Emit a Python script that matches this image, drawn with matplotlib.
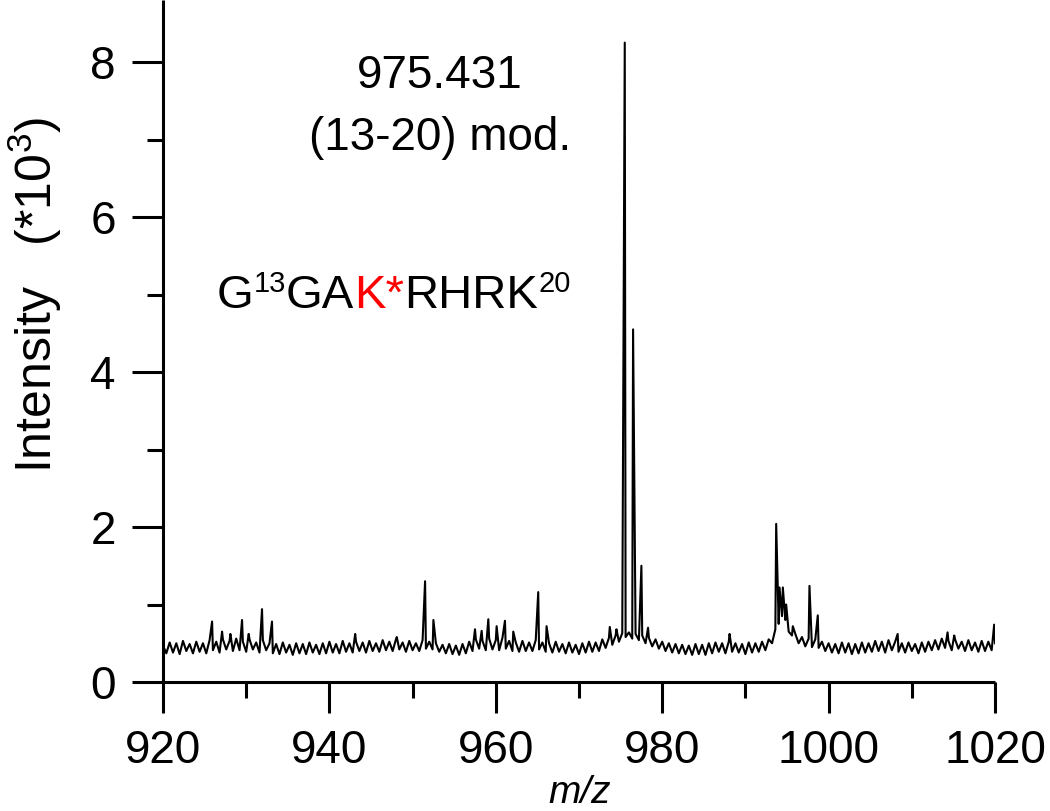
"""
Kütle spektrumu: 975.431 (13-20) mod.
"""
import matplotlib
matplotlib.use("Agg")
import matplotlib.pyplot as plt
import numpy as np

plt.rcParams['font.family'] = ['Liberation Sans', 'DejaVu Sans']
plt.rcParams['mathtext.fontset'] = 'custom'
plt.rcParams['mathtext.rm'] = 'Liberation Sans'

# taban gürültüsü, 920'den 1020'ye 0.4 m/z aralıklarla (*10^3)
taban_mz = np.linspace(920, 1020, 251)
taban = [
    0.47, 0.37, 0.51, 0.38, 0.50, 0.36, 0.53, 0.40, 0.49, 0.37,
    0.52, 0.39, 0.50, 0.37, 0.54, 0.41, 0.52, 0.38, 0.55, 0.42,
    0.53, 0.40, 0.56, 0.41, 0.52, 0.39, 0.55, 0.42, 0.51, 0.38,
    0.54, 0.41, 0.50, 0.37, 0.49, 0.36, 0.51, 0.38, 0.48, 0.35,
    0.50, 0.37, 0.49, 0.36, 0.51, 0.38, 0.48, 0.36, 0.50, 0.37,
    0.52, 0.38, 0.49, 0.37, 0.53, 0.39, 0.50, 0.38, 0.52, 0.40,
    0.51, 0.38, 0.53, 0.40, 0.50, 0.39, 0.54, 0.41, 0.52, 0.40,
    0.55, 0.42, 0.51, 0.39, 0.53, 0.41, 0.50, 0.40, 0.54, 0.43,
    0.52, 0.42, 0.50, 0.39, 0.48, 0.37, 0.49, 0.36, 0.47, 0.35,
    0.49, 0.37, 0.52, 0.40, 0.55, 0.43, 0.53, 0.41, 0.56, 0.42,
    0.54, 0.41, 0.57, 0.43, 0.53, 0.40, 0.51, 0.39, 0.53, 0.40,
    0.51, 0.40, 0.54, 0.42, 0.51, 0.39, 0.50, 0.38, 0.52, 0.39,
    0.49, 0.37, 0.51, 0.38, 0.48, 0.36, 0.50, 0.38, 0.52, 0.39,
    0.51, 0.40, 0.55, 0.44, 0.57, 0.48, 0.60, 0.52, 0.63, 0.58,
    0.64, 0.56, 0.62, 0.54, 0.60, 0.50, 0.57, 0.46, 0.55, 0.43,
    0.52, 0.40, 0.50, 0.38, 0.49, 0.37, 0.48, 0.36, 0.47, 0.35,
    0.49, 0.36, 0.48, 0.35, 0.50, 0.37, 0.51, 0.39, 0.50, 0.37,
    0.52, 0.39, 0.50, 0.38, 0.49, 0.36, 0.51, 0.38, 0.50, 0.39,
    0.52, 0.41, 0.55, 0.50, 0.68, 0.75, 0.85, 0.80, 0.65, 0.60,
    0.62, 0.50, 0.58, 0.46, 0.56, 0.45, 0.55, 0.44, 0.52, 0.40,
    0.50, 0.38, 0.49, 0.37, 0.51, 0.38, 0.50, 0.36, 0.49, 0.37,
    0.51, 0.38, 0.50, 0.39, 0.53, 0.40, 0.52, 0.38, 0.54, 0.41,
    0.52, 0.39, 0.50, 0.38, 0.51, 0.40, 0.49, 0.37, 0.51, 0.39,
    0.52, 0.41, 0.54, 0.42, 0.56, 0.44, 0.53, 0.41, 0.55, 0.43,
    0.52, 0.40, 0.54, 0.41, 0.51, 0.39, 0.53, 0.40, 0.52, 0.41,
    0.50,
]

# pik konumları (m/z) ve yükseklikleri (*10^3)
pik_mz = [925.9, 927.1, 928.1, 929.5, 930.3, 931.9, 933.1, 943.1, 948.1,
          951.5, 952.5, 957.5, 958.3, 959.1, 960.1, 961.1, 962.1, 965.1,
          966.1, 973.7, 974.5, 975.5, 976.5, 977.5, 978.3, 988.1, 993.7,
          994.1, 994.5, 994.9, 995.7, 997.7, 998.7, 1008.3, 1014.3,
          1015.1, 1019.9]
pik_yük = [0.78, 0.65, 0.62, 0.80, 0.62, 0.94, 0.78, 0.62, 0.58,
           1.30, 0.80, 0.68, 0.66, 0.81, 0.72, 0.79, 0.65, 1.16,
           0.72, 0.71, 0.68, 8.25, 4.55, 1.50, 0.70, 0.62, 2.04,
           1.22, 1.22, 1.00, 0.72, 1.24, 0.86, 0.62, 0.64,
           0.60, 0.74]

xTikler = [920, 940, 960, 980, 1000, 1020]
yTikler = [0, 2, 4, 6, 8]

# taban ve pikleri tek bir dizide birleştir
mz = np.concatenate([taban_mz, pik_mz])
yoğ = np.concatenate([taban, pik_yük])
sıra = np.argsort(mz)
mz, yoğ = mz[sıra], yoğ[sıra]

fig = plt.figure(figsize=(10.5, 8.11), dpi=100)
ax = fig.add_axes([163/1050, 1 - 682/811, (995-163)/1050, 682/811])

ax.plot(mz, yoğ, color='black', lw=1.5)

ax.set_xlim(920, 1020)
ax.set_ylim(0, 8.8)
ax.set_xticks(xTikler)
ax.set_xticks([930, 950, 970, 990, 1010], minor=True)
ax.set_yticks(yTikler)
ax.set_yticks([1, 3, 5, 7], minor=True)

for k in ['top', 'right']:
    ax.spines[k].set_visible(False)
for k in ['left', 'bottom']:
    ax.spines[k].set_linewidth(2.2)
    ax.spines[k].set_capstyle('butt')

ax.tick_params(which='major', direction='out', length=22, width=2.2,
               labelsize=33, pad=12)
ax.tick_params(which='minor', direction='out', length=11.5, width=2.2)

# eksen etiketleri
fig.text(580/1050, 1 - 803/811, 'm/z', ha='center', va='baseline',
         fontsize=28, style='italic')
fig.text(35/1050, 1 - 295/811, 'Intensity   (*10$^{3}$)', rotation=90,
         ha='center', va='center', fontsize=36)

# açıklamalar
fig.text(440/1050, 1 - 88/811, '975.431', ha='center', va='baseline', fontsize=33)
fig.text(440/1050, 1 - 150/811, '(13-20) mod.', ha='center', va='baseline', fontsize=33)

# dizi yazısı, parça parça
parçalar = [('G', 34, 'black', 0), ('13', 21, 'black', 16),
            ('GA', 34, 'black', 0), ('K*', 34, 'red', 0),
            ('RHRK', 34, 'black', 0), ('20', 21, 'black', 16)]
renderer = fig.canvas.get_renderer()
xPx = 217
for metin, boy, renk, yukarı in parçalar:
    t = fig.text(xPx/1050, 1 - (308 - yukarı)/811, metin, ha='left',
                 va='baseline', fontsize=boy, color=renk)
    xPx = t.get_window_extent(renderer).x1

fig.savefig('out.png', dpi=100)
